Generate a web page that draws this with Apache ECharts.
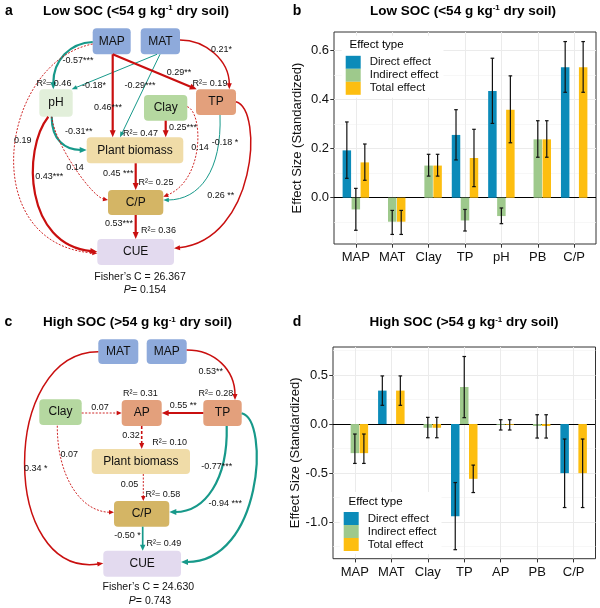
<!DOCTYPE html>
<html>
<head>
<meta charset="utf-8">
<script src="https://cdn.jsdelivr.net/npm/echarts@6/dist/echarts.min.js"></script>
<style>
  html, body { margin: 0; padding: 0; background: #fff; }
  #main { width: 600px; height: 608px; }
</style>
</head>
<body>
<div id="main"></div>
<script>
const FONT = '"Liberation Sans", Arial, Helvetica, sans-serif';
const RED = '#c90f0f';
const TEAL = '#17998a';
const DIRECT = '#0b8bb9', INDIRECT = '#9ec98c', TOTAL = '#fdbe10';

// ---------- effect sizes, low SOC (panel b) ----------
const lowCats = ['MAP', 'MAT', 'Clay', 'TP', 'pH', 'PB', 'C/P'];
const lowTicks = [0, 0.2, 0.4, 0.6];
const lowMinor = [-0.1, 0.1, 0.3, 0.5];
const lowDirect     = [0.193, null, null, 0.256, 0.435, null, 0.532];
const lowDirectLo   = [0.079, null, null, 0.154, 0.303, null, 0.430];
const lowDirectHi   = [0.309, null, null, 0.359, 0.569, null, 0.637];
const lowIndirect   = [-0.048, -0.098, 0.131, -0.093, -0.075, 0.238, null];
const lowIndirectLo = [-0.133, -0.150, 0.088, -0.136, -0.106, 0.165, null];
const lowIndirectHi = [0.038, -0.052, 0.177, -0.048, -0.042, 0.314, null];
const lowTotal      = [0.144, -0.098, 0.131, 0.162, 0.359, 0.238, 0.532];
const lowTotalLo    = [0.071, -0.150, 0.088, 0.045, 0.224, 0.165, 0.430];
const lowTotalHi    = [0.219, -0.052, 0.177, 0.279, 0.497, 0.314, 0.637];

// ---------- effect sizes, high SOC (panel d) ----------
const highCats = ['MAP', 'MAT', 'Clay', 'TP', 'AP', 'PB', 'C/P'];
const highTicks = [-1.0, -0.5, 0, 0.5];
const highMinor = [-1.25, -0.75, -0.25, 0.25, 0.75];
const highDirect     = [null, 0.341, null, -0.941, null, null, -0.501];
const highDirectLo   = [null, 0.191, null, -1.282, null, null, -0.852];
const highDirectHi   = [null, 0.491, null, -0.597, null, null, -0.153];
const highIndirect   = [-0.297, null, -0.038, 0.378, -0.008, -0.020, null];
const highIndirectLo = [-0.402, null, -0.140, 0.065, -0.061, -0.143, null];
const highIndirectHi = [-0.102, null, 0.068, 0.689, 0.044, 0.095, null];
const highTotal      = [-0.297, 0.341, -0.038, -0.559, -0.008, -0.020, -0.501];
const highTotalLo    = [-0.402, 0.191, -0.140, -0.699, -0.061, -0.143, -0.852];
const highTotalHi    = [-0.102, 0.491, 0.068, -0.419, 0.044, 0.095, -0.153];

const effectNames = ['Direct effect', 'Indirect effect', 'Total effect'];

// ---------- SEM, low SOC (panel a) ----------
const semANodes = ['MAP', 'MAT', 'pH', 'Clay', 'TP', 'Plant biomass', 'C/P', 'CUE'];
const semACoef = ['-0.57***', '-0.18*', '-0.29***', '0.46***', '0.29**', '0.21*', '0.19', '-0.31**',
  '0.14', '0.43***', '0.25***', '0.14', '-0.18 *', '0.26 **', '0.45 ***', '0.53***'];
const semAR2 = ['0.46', '0.19', '0.47', '0.25', '0.36'];
const semAFisher = '26.367', semAP = '0.154';

// ---------- SEM, high SOC (panel c) ----------
const semCNodes = ['MAT', 'MAP', 'Clay', 'AP', 'TP', 'Plant biomass', 'C/P', 'CUE'];
const semCCoef = ['0.34 *', '0.53**', '0.55 **', '0.07', '0.32', '0.07', '0.05', '-0.77***', '-0.94 ***', '-0.50 *'];
const semCR2 = ['0.31', '0.28', '0.10', '0.58', '0.49'];
const semCFisher = '24.630', semCP = '0.743';

// ---------- diagram layout (px in the left half) ----------
const nodeColor = {
  MAP: '#8eaadb', MAT: '#8eaadb', pH: '#e2efda', Clay: '#b5d8a0', TP: '#e3a07c', AP: '#e3a07c',
  'Plant biomass': '#f0dca8', 'C/P': '#d4b565', CUE: '#e3daef'
};
const edgeStyle = {
  R:  { color: RED,  w: 2.2, dash: null,   ah: 7,   aw: 6 },
  r:  { color: RED,  w: 1.5, dash: null,   ah: 6,   aw: 5 },
  rn: { color: RED,  w: 0.9, dash: [2, 1.5], ah: 5,   aw: 4.5 },
  rd: { color: RED,  w: 1.6, dash: [3, 2], ah: 6,   aw: 5 },
  T:  { color: TEAL, w: 2.2, dash: null,   ah: 7,   aw: 6 },
  t:  { color: TEAL, w: 1.0, dash: null,   ah: 5.5, aw: 4.5 },
  tm: { color: TEAL, w: 1.7, dash: null,   ah: 6,   aw: 5.5 }
};
const semABoxes = [[92.7, 28.3, 38, 26], [140.7, 28.3, 39.3, 26], [39.3, 89.3, 33.4, 27.4], [144, 95, 43.3, 25.7],
  [196, 89.3, 40, 25.7], [86.7, 137.3, 96.6, 26], [108, 190, 55.3, 25], [97.3, 239, 76.7, 26]];
const semAEdges = [
  ['T', [92.7, 42, 70, 43, 53.3, 60, 53.3, 89.3]],
  ['t', [157, 54.3, 71.7, 89.3]],
  ['t', [160, 54.3, 120, 137.3]],
  ['R', [112.7, 54.3, 112.7, 137.3]],
  ['R', [112.7, 54.3, 196.7, 89.3]],
  ['r', [180, 40, 205, 40, 229.3, 60, 229.3, 89.3]],
  ['rn', [92.7, 44, 0, 62, -25, 245, 97.3, 253.3]],
  ['T', [51.7, 116.7, 51.7, 140, 65, 150, 86.7, 150]],
  ['rn', [51.7, 116.7, 55, 145, 92, 197, 108, 200]],
  ['R', [48.3, 116.7, 22, 150, 25, 245, 97.3, 251.7]],
  ['R', [165.7, 120.7, 165.7, 137.3]],
  ['rn', [187.3, 106.7, 203, 112, 205, 180, 163.3, 196.7]],
  ['t', [220, 115, 222, 170, 200, 200, 163.3, 200]],
  ['r', [236, 101.7, 264, 110, 256, 240, 174, 248.3]],
  ['R', [135.7, 163.3, 135.7, 190]],
  ['R', [135.7, 215, 135.7, 239]]
];
const semACoefPos = [[78, 61], [94, 86], [140, 86], [108, 107.3], [179, 72.7], [221.5, 50], [22.8, 140.7], [78.7, 131.7],
  [75, 167.7], [49.3, 176.7], [183, 127.7], [200, 147.3], [225, 142.7], [220.8, 196], [118.3, 174], [119, 224]];
const semAR2Pos = [[54, 83.3], [210, 83.3], [140.5, 134], [156, 182.7], [158.5, 231]];
const semAFitPos = [[140, 276.7], [145, 290]];

const semCBoxes = [[98.3, 339.3, 40, 24.7], [146.7, 339.3, 40, 24.7], [39.3, 399.3, 42.4, 25.7], [121.7, 400, 40, 26],
  [203.3, 400, 38.4, 26], [91.7, 449, 98.3, 25], [114, 501, 55.3, 25.7], [103.3, 550.7, 77.7, 26]];
const semCEdges = [
  ['r', [98.3, 351.7, 0, 352, 0, 578, 103.3, 563.3]],
  ['r', [186.7, 350, 215, 350, 235, 370, 235, 400]],
  ['R', [203.3, 413, 161.7, 413]],
  ['rn', [81.7, 413, 121.7, 413]],
  ['rd', [141.7, 426, 141.7, 449]],
  ['rn', [57.3, 425.7, 57, 475, 80, 512, 114, 512.3]],
  ['rn', [143.3, 474, 143.3, 501]],
  ['T', [226.7, 426, 228, 480, 205, 512, 169.3, 512]],
  ['T', [241.7, 413.3, 270, 420, 262, 562, 181, 562]],
  ['tm', [142.7, 526.7, 142.7, 550.7]]
];
const semCCoefPos = [[35.8, 468.3], [210.7, 371.7], [183.3, 406], [100, 407.3], [131, 436], [69.3, 454.3],
  [129.5, 485], [216.7, 466.7], [225.3, 504], [127.5, 536]];
const semCR2Pos = [[140.3, 394], [215.8, 394], [169.7, 442.3], [162.8, 495], [163.8, 544]];
const semCFitPos = [[148.3, 587.3], [150, 600.7]];

const boxB = { left: 334, top: 32, width: 262, height: 212 };
const boxD = { left: 333, top: 347, width: 262.5, height: 211.7 };

const grids = [], xAxes = [], yAxes = [], series = [];

function addBarPanel(box, cats, range, ticks, minors, sets) {
  const unit = box.width / (cats.length + 0.2);
  const gBox = grids.length, gIn = gBox + 1;
  grids.push({ left: box.left, top: box.top, width: box.width, height: box.height, show: true,
    borderColor: '#333', borderWidth: 1, backgroundColor: 'transparent', outerBoundsMode: 'none' });
  grids.push({ left: box.left + 0.1 * unit, top: box.top, width: cats.length * unit, height: box.height,
    outerBoundsMode: 'none' });
  const idx = cats.map((c, i) => i);
  const xBox = xAxes.length, xIn = xBox + 1;
  xAxes.push({ gridIndex: gBox, type: 'value', min: -0.6, max: cats.length - 0.4,
    axisLine: { show: false, onZero: false },
    axisTick: { show: true, length: 3.7, lineStyle: { color: '#333' }, customValues: idx },
    axisLabel: { customValues: idx, formatter: v => cats[Math.round(v)], fontSize: 13, color: '#111', margin: 7 },
    splitLine: { show: true, lineStyle: { color: '#ebebeb', width: 1 } } });
  xAxes.push({ gridIndex: gIn, type: 'category', data: cats, show: false });
  const yBox = yAxes.length, yIn = yBox + 2;
  yAxes.push({ gridIndex: gBox, type: 'value', min: range[0], max: range[1],
    name: 'Effect Size (Standardized)', nameLocation: 'middle', nameGap: 30,
    nameTextStyle: { fontSize: 13, color: '#111' },
    axisLine: { show: false, onZero: false },
    axisTick: { show: true, length: 3.7, lineStyle: { color: '#333' }, customValues: ticks },
    axisLabel: { customValues: ticks, formatter: v => v.toFixed(1), fontSize: 13, color: '#111', margin: 5 },
    splitLine: { show: true, lineStyle: { color: '#ebebeb', width: 1 } } });
  yAxes.push({ gridIndex: gBox, type: 'value', min: range[0], max: range[1],
    axisLine: { show: false, onZero: false }, axisTick: { show: false, customValues: minors },
    axisLabel: { show: false, customValues: minors },
    splitLine: { show: true, lineStyle: { color: '#f4f4f4', width: 0.7 } } });
  yAxes.push({ gridIndex: gIn, type: 'value', min: range[0], max: range[1], show: false });

  // horizontal zero line across the whole panel
  series.push({ type: 'line', name: 'zero', xAxisIndex: xBox, yAxisIndex: yBox, data: [], silent: true,
    markLine: { silent: true, symbol: 'none', label: { show: false }, z: 1,
      lineStyle: { color: '#000', width: 1, type: 'solid' }, data: [{ yAxis: 0 }] } });

  sets.forEach(s => {
    series.push({ type: 'bar', name: s.name, xAxisIndex: xIn, yAxisIndex: yIn, data: s.v,
      barWidth: '23.3%', barGap: '6%', itemStyle: { color: s.color }, z: 2, silent: true });
  });

  const eb = [];
  sets.forEach((s, k) => s.v.forEach((v, i) => { if (v != null) eb.push([i, s.lo[i], s.hi[i], k]); }));
  series.push({ type: 'custom', name: 'err', xAxisIndex: xIn, yAxisIndex: yIn, data: eb,
    encode: { x: 0, y: [1, 2] }, z: 3, silent: true,
    renderItem: (p, api) => {
      const c = api.value(0), k = api.value(3);
      const band = api.size([1, 0])[0];
      const x = api.coord([c, 0])[0] + (k - 1) * band * 0.247;
      const y1 = api.coord([c, api.value(1)])[1], y2 = api.coord([c, api.value(2)])[1];
      const cap = 1.8, st = { stroke: '#111', lineWidth: 1.2 };
      return { type: 'group', children: [
        { type: 'line', shape: { x1: x, y1: y1, x2: x, y2: y2 }, style: st },
        { type: 'line', shape: { x1: x - cap, y1: y1, x2: x + cap, y2: y1 }, style: st },
        { type: 'line', shape: { x1: x - cap, y1: y2, x2: x + cap, y2: y2 }, style: st }
      ] };
    } });
}

addBarPanel(boxB, lowCats, [-0.189, 0.676], lowTicks, lowMinor, [
  { name: effectNames[0], color: DIRECT, v: lowDirect, lo: lowDirectLo, hi: lowDirectHi },
  { name: effectNames[1], color: INDIRECT, v: lowIndirect, lo: lowIndirectLo, hi: lowIndirectHi },
  { name: effectNames[2], color: TOTAL, v: lowTotal, lo: lowTotalLo, hi: lowTotalHi }
]);
addBarPanel(boxD, highCats, [-1.374, 0.786], highTicks, highMinor, [
  { name: effectNames[0], color: DIRECT, v: highDirect, lo: highDirectLo, hi: highDirectHi },
  { name: effectNames[1], color: INDIRECT, v: highIndirect, lo: highIndirectLo, hi: highIndirectHi },
  { name: effectNames[2], color: TOTAL, v: highTotal, lo: highTotalLo, hi: highTotalHi }
]);

// ---------- path diagrams ----------
const gDiag = grids.length;
grids.push({ left: 0, top: 0, width: 300, height: 608, outerBoundsMode: 'none' });
const xDiag = xAxes.length, yDiag = yAxes.length;
xAxes.push({ gridIndex: gDiag, type: 'value', min: 0, max: 300, show: false });
yAxes.push({ gridIndex: gDiag, type: 'value', min: 0, max: 608, inverse: true, show: false });

function addSem(nodes, boxes, edges, coef, coefPos, r2, r2Pos, fisher, pval, fitPos) {
  series.push({ type: 'custom', name: 'nodes', xAxisIndex: xDiag, yAxisIndex: yDiag, silent: true, z: 2,
    data: boxes.map(b => [b[0], b[1]]), encode: { x: 0, y: 1 },
    renderItem: (p, api) => {
      const b = boxes[p.dataIndex], name = nodes[p.dataIndex];
      const a = api.coord([b[0], b[1]]), c = api.coord([b[0] + b[2], b[1] + b[3]]);
      return { type: 'group', children: [
        { type: 'rect', shape: { x: a[0], y: a[1], width: c[0] - a[0], height: c[1] - a[1], r: 4 },
          style: { fill: nodeColor[name] } },
        { type: 'text', x: (a[0] + c[0]) / 2, y: (a[1] + c[1]) / 2,
          style: { text: name, fill: '#111', font: '12px ' + FONT, align: 'center', verticalAlign: 'middle' } }
      ] };
    } });

  series.push({ type: 'custom', name: 'paths', xAxisIndex: xDiag, yAxisIndex: yDiag, silent: true, z: 3,
    data: edges.map(e => [e[1][0], e[1][1]]), encode: { x: 0, y: 1 },
    renderItem: (p, api) => {
      const e = edges[p.dataIndex], s = edgeStyle[e[0]], q = e[1];
      const P = [];
      for (let j = 0; j < q.length; j += 2) P.push(api.coord([q[j], q[j + 1]]));
      const end = P[P.length - 1], prev = P[P.length - 2];
      let ux = end[0] - prev[0], uy = end[1] - prev[1];
      const len = Math.hypot(ux, uy); ux /= len; uy /= len;
      const bx = end[0] - ux * s.ah, by = end[1] - uy * s.ah;
      const nx = -uy, ny = ux;
      const lineSt = { stroke: s.color, lineWidth: s.w, lineDash: s.dash, fill: 'none' };
      const body = P.length === 2
        ? { type: 'line', shape: { x1: P[0][0], y1: P[0][1], x2: bx + ux, y2: by + uy }, style: lineSt }
        : { type: 'bezierCurve', shape: { x1: P[0][0], y1: P[0][1], cpx1: P[1][0], cpy1: P[1][1],
            cpx2: P[2][0], cpy2: P[2][1], x2: bx + ux, y2: by + uy }, style: lineSt };
      return { type: 'group', children: [body,
        { type: 'polygon', shape: { points: [[end[0], end[1]], [bx + nx * s.aw / 2, by + ny * s.aw / 2],
          [bx - nx * s.aw / 2, by - ny * s.aw / 2]] }, style: { fill: s.color } }
      ] };
    } });

  const labels = [];
  coef.forEach((t, i) => labels.push({ t: t, pos: coefPos[i], font: '9px ' + FONT }));
  r2.forEach((t, i) => labels.push({ t: 'R\u00b2= ' + t, pos: r2Pos[i], font: '9px ' + FONT }));
  labels.push({ t: 'Fisher\u2019s C = ' + fisher, pos: fitPos[0], font: '10.5px ' + FONT });
  labels.push({ t: '{i|P}{n|= ' + pval + '}', pos: fitPos[1], font: '10.5px ' + FONT,
    rich: { i: { fontStyle: 'italic', fontSize: 10.5, fontFamily: FONT, fill: '#111' },
            n: { fontSize: 10.5, fontFamily: FONT, fill: '#111' } } });
  series.push({ type: 'custom', name: 'labels', xAxisIndex: xDiag, yAxisIndex: yDiag, silent: true, z: 4,
    data: labels.map(l => l.pos), encode: { x: 0, y: 1 },
    renderItem: (p, api) => {
      const l = labels[p.dataIndex], c = api.coord(l.pos);
      return { type: 'text', x: c[0], y: c[1],
        style: { text: l.t, font: l.font, fill: '#111', align: 'center', verticalAlign: 'middle', rich: l.rich } };
    } });
}

addSem(semANodes, semABoxes, semAEdges, semACoef, semACoefPos, semAR2, semAR2Pos, semAFisher, semAP, semAFitPos);
addSem(semCNodes, semCBoxes, semCEdges, semCCoef, semCCoefPos, semCR2, semCR2Pos, semCFisher, semCP, semCFitPos);

// ---------- titles, panel letters, legend titles ----------
const titleRich = {
  t: { fontSize: 13.5, fontWeight: 'bold', fontFamily: FONT, fill: '#000' },
  s: { fontSize: 8, fontWeight: 'bold', fontFamily: FONT, fill: '#000', verticalAlign: 'top' }
};
function txt(x, y, text, font, align, rich) {
  return { type: 'text', x: x, y: y, z: 100, silent: true,
    style: { text: text, font: font, fill: '#000', align: align || 'center', verticalAlign: 'middle',
      textAlign: align || 'center', textVerticalAlign: 'middle', rich: rich } };
}
const graphics = [
  txt(9, 11, 'a', 'bold 14px ' + FONT),
  txt(297, 11, 'b', 'bold 14px ' + FONT),
  txt(8.5, 322, 'c', 'bold 14px ' + FONT),
  txt(297, 322, 'd', 'bold 14px ' + FONT),
  txt(136, 11, '{t|Low SOC (<54 g kg}{s|-1}{t| dry soil)}', 'bold 13.5px ' + FONT, 'center', titleRich),
  txt(463, 11, '{t|Low SOC (<54 g kg}{s|-1}{t| dry soil)}', 'bold 13.5px ' + FONT, 'center', titleRich),
  txt(137.5, 322.7, '{t|High SOC (>54 g kg}{s|-1}{t| dry soil)}', 'bold 13.5px ' + FONT, 'center', titleRich),
  txt(464, 322.7, '{t|High SOC (>54 g kg}{s|-1}{t| dry soil)}', 'bold 13.5px ' + FONT, 'center', titleRich),
  txt(349.5, 45, 'Effect type', '11.5px ' + FONT, 'left'),
  txt(348.5, 501.7, 'Effect type', '11.5px ' + FONT, 'left')
];

const legendBase = {
  data: effectNames, orient: 'vertical', icon: 'rect', itemWidth: 15, itemHeight: 13, itemGap: 0,
  backgroundColor: '#fff', selectedMode: false,
  textStyle: { fontSize: 11.5, color: '#111', fontFamily: FONT, padding: [0, 0, 0, 4] }
};

const chart = echarts.init(document.getElementById('main'), null, { renderer: 'canvas' });
chart.setOption({
  animation: false,
  backgroundColor: '#fff',
  textStyle: { fontFamily: FONT },
  grid: grids,
  xAxis: xAxes,
  yAxis: yAxes,
  legend: [
    Object.assign({}, legendBase, { left: 341.7, top: 35.8, padding: [20, 5, 3, 4] }),
    Object.assign({}, legendBase, { left: 339.7, top: 492, padding: [20, 5, 3, 4] })
  ],
  graphic: graphics,
  series: series
});
</script>
</body>
</html>
